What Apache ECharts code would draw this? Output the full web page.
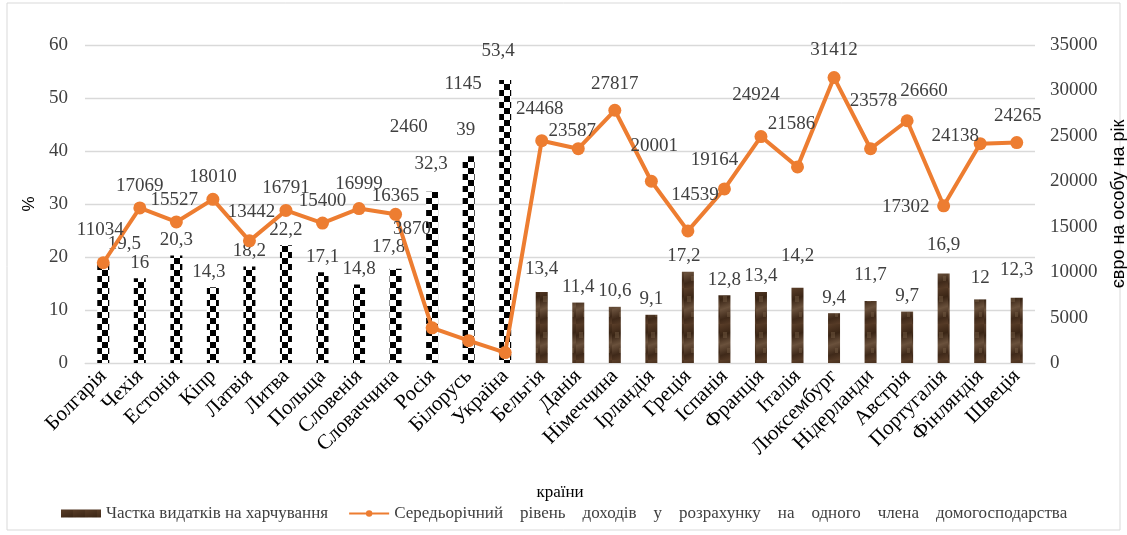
<!DOCTYPE html>
<html>
<head>
<meta charset="utf-8">
<script src="https://cdn.jsdelivr.net/npm/echarts@6/dist/echarts.min.js"></script>
<style>
  html, body { margin: 0; padding: 0; background: #fff; }
  #chart { width: 1127px; height: 535px; }
</style>
</head>
<body>
<div id="chart"></div>
<script>
// країни
var countries = ['Болгарія', 'Чехія', 'Естонія', 'Кіпр', 'Латвія', 'Литва', 'Польща', 'Словенія',
  'Словаччина', 'Росія', 'Білорусь', 'Україна', 'Бельгія', 'Данія', 'Німеччина', 'Ірландія',
  'Греція', 'Іспанія', 'Франція', 'Італія', 'Люксембург', 'Нідерланди', 'Австрія', 'Португалія',
  'Фінляндія', 'Швеція']
// частка видатків на харчування, %
var foodShare = [19.5, 16, 20.3, 14.3, 18.2, 22.2, 17.1, 14.8, 17.8, 32.3, 39, 53.4,
  13.4, 11.4, 10.6, 9.1, 17.2, 12.8, 13.4, 14.2, 9.4, 11.7, 9.7, 16.9, 12, 12.3]
// середньорічний дохід, євро на особу на рік
var income = [11034, 17069, 15527, 18010, 13442, 16791, 15400, 16999, 16365, 3870, 2460, 1145,
  24468, 23587, 27817, 20001, 14539, 19164, 24924, 21586, 31412, 23578, 26660, 17302, 24138, 24265]
var leftTicks = [0, 10, 20, 30, 40, 50, 60]
var rightTicks = [0, 5000, 10000, 15000, 20000, 25000, 30000, 35000]

// зсуви підписів (як у вихідному Excel-графіку)
var lineLabelShift = [[-3, -11], [0, 0], [-2, 0], [0, 0], [2, -7], [0, 0], [0, 0], [0, -3], [0, 4],
  [-20, -77], [-60, -192], [-42, -247], [-2, -10], [-6, 4], [0, -4], [3, -13], [7, -14], [-10, -7],
  [-5, -20], [-6, -21], [0, -6], [3, -26], [17, -8], [-38, 23], [-25, 14], [1, -5]]
var barLabelShift = [[21, 0], [0, 0], [0, 0], [-4, 0], [0, 0], [0, 0], [0, 0], [0, 0], [-7, -6],
  [-1, -12], [-3, -11], [-7, -13], [0, -7], [0, 0], [0, 0], [0, 0], [-4, 0], [0, 0], [0, 0],
  [0, -16], [0, 0], [0, -10], [0, 0], [0, -13], [0, -6], [0, -12]]
var checkeredCount = 12

var serif = '"Liberation Serif", "Times New Roman", serif'
var sans = '"Liberation Sans", Arial, sans-serif'
var textColor = '#404040'

function checkerCanvas() {
  var c = document.createElement('canvas')
  c.width = 12
  c.height = 12
  var ctx = c.getContext('2d')
  ctx.fillStyle = '#fff'
  ctx.fillRect(0, 0, 12, 12)
  ctx.fillStyle = '#000'
  ctx.fillRect(0, 0, 6, 6)
  ctx.fillRect(6, 6, 6, 6)
  return c
}

function brownCanvas() {
  var c = document.createElement('canvas')
  c.width = 12
  c.height = 36
  var ctx = c.getContext('2d')
  var g = ctx.createLinearGradient(0, 0, 12, 36)
  g.addColorStop(0, '#5a3e29')
  g.addColorStop(0.3, '#3a2515')
  g.addColorStop(0.55, '#6a513c')
  g.addColorStop(0.8, '#3f2919')
  g.addColorStop(1, '#5a3e29')
  ctx.fillStyle = g
  ctx.fillRect(0, 0, 12, 36)
  ctx.fillStyle = 'rgba(120,95,70,0.45)'
  ctx.fillRect(3, 8, 4, 6)
  ctx.fillRect(7, 24, 3, 5)
  return c
}

var checker = { image: checkerCanvas(), repeat: 'repeat' }
var brown = { image: brownCanvas(), repeat: 'repeat' }

var barData = foodShare.map(function (v, i) {
  return {
    value: v,
    itemStyle: { color: i < checkeredCount ? checker : brown }
  }
})

var barName = 'Частка видатків на харчування'
var lineName = 'Середьорічний рівень доходів у розрахунку на одного члена домогосподарства'

var chart = echarts.init(document.getElementById('chart'))
chart.setOption({
  animation: false,
  textStyle: { fontFamily: serif },
  graphic: [{
    type: 'rect',
    shape: { x: 7, y: 3, width: 1113, height: 527 },
    style: { fill: 'none', stroke: '#d9d9d9', lineWidth: 1 },
    silent: true
  }],
  grid: { left: 85, right: 92, top: 45, bottom: 172, outerBoundsMode: 'none' },
  legend: {
    left: 56,
    bottom: 8,
    itemWidth: 40,
    itemHeight: 8,
    itemGap: 20,
    textStyle: { fontFamily: serif, fontSize: 17, color: textColor },
    // у підписі лінії слова розставлені ширше
    formatter: function (name) {
      return name === lineName ? name.split(' ').join('\u2003') : name
    },
    data: [
      { name: barName, icon: 'rect', itemStyle: { color: brown } },
      { name: lineName }
    ]
  },
  xAxis: {
    type: 'category',
    data: countries,
    name: 'країни',
    nameLocation: 'middle',
    nameGap: 121,
    nameTextStyle: { fontFamily: serif, fontSize: 17, color: '#000' },
    axisLine: { lineStyle: { color: '#d9d9d9' } },
    axisTick: { show: false },
    axisLabel: { rotate: 45, interval: 0, margin: 10, fontFamily: serif, fontSize: 21, color: '#000' }
  },
  yAxis: [{
    type: 'value',
    min: leftTicks[0],
    max: leftTicks[leftTicks.length - 1],
    interval: leftTicks[1] - leftTicks[0],
    name: '%',
    nameLocation: 'middle',
    nameGap: 40,
    nameRotate: 90,
    nameTextStyle: { fontFamily: sans, fontSize: 17, color: '#000' },
    axisLabel: { margin: 17, fontFamily: serif, fontSize: 19, color: textColor },
    splitLine: { lineStyle: { color: '#d9d9d9', width: 1.3 } }
  }, {
    type: 'value',
    min: rightTicks[0],
    max: rightTicks[rightTicks.length - 1],
    interval: rightTicks[1] - rightTicks[0],
    name: 'євро на особу на рік',
    nameLocation: 'middle',
    nameGap: 75,
    nameRotate: 90,
    nameTextStyle: { fontFamily: sans, fontSize: 18, color: '#000' },
    axisLabel: { margin: 15, fontFamily: serif, fontSize: 19, color: textColor, formatter: function (v) { return String(v) } },
    splitLine: { show: false }
  }],
  series: [{
    name: barName,
    type: 'bar',
    yAxisIndex: 0,
    barWidth: 12,
    itemStyle: { color: brown },
    data: barData,
    labelLayout: function (p) {
      return { dx: barLabelShift[p.dataIndex][0], dy: barLabelShift[p.dataIndex][1] }
    },
    label: {
      show: true,
      position: 'top',
      distance: 6,
      fontFamily: serif,
      fontSize: 19,
      color: textColor,
      formatter: function (p) { return String(p.value).replace('.', ',') }
    }
  }, {
    name: lineName,
    type: 'line',
    yAxisIndex: 1,
    data: income,
    symbol: 'circle',
    symbolSize: 13,
    lineStyle: { color: '#ed7d31', width: 4 },
    itemStyle: { color: '#ed7d31' },
    labelLayout: function (p) {
      return { dx: lineLabelShift[p.dataIndex][0], dy: lineLabelShift[p.dataIndex][1] }
    },
    label: {
      show: true,
      position: 'top',
      distance: 6,
      fontFamily: serif,
      fontSize: 19,
      color: textColor
    }
  }]
})
</script>
</body>
</html>
